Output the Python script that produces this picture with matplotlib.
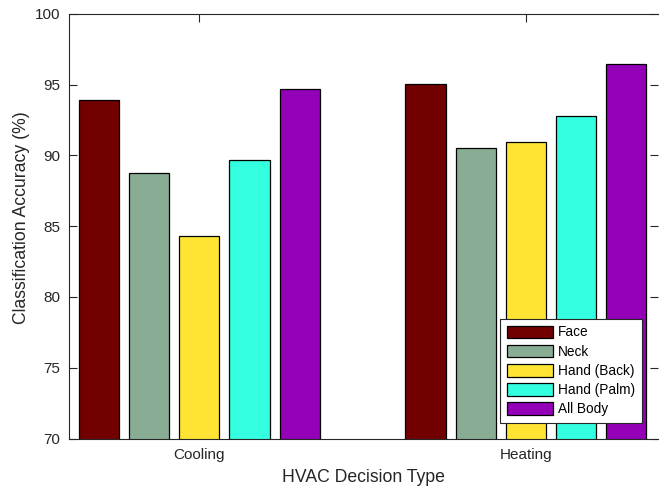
import numpy as np
import matplotlib
matplotlib.use('Agg')
import matplotlib.pyplot as plt

plt.rcParams['font.family'] = ['Liberation Sans', 'DejaVu Sans']

decision_types = ['Cooling', 'Heating']
body_parts = ['Face', 'Neck', 'Hand (Back)', 'Hand (Palm)', 'All Body']
accuracy = {
    'Face':        [93.88, 95.07],
    'Neck':        [88.72, 90.49],
    'Hand (Back)': [84.28, 90.91],
    'Hand (Palm)': [89.64, 92.77],
    'All Body':    [94.68, 96.44],
}
bar_colors = ['#720000', '#88ad94', '#ffe433', '#33ffe0', '#9400b8']
text_color = '#262626'

fig = plt.figure(figsize=(6.6, 4.87), dpi=100)
ax = fig.add_axes([68.7/660, 1 - 438.5/487, (657.5 - 68.7)/660, (438.5 - 13.7)/487])

x = np.arange(1, len(decision_types) + 1)
group_width = min(0.8, 5 / (5 + 1.5))
step = group_width / len(body_parts)
width = 0.8 * step

for i, part in enumerate(body_parts):
    offset = (i - (len(body_parts) - 1) / 2) * step
    ax.bar(x + offset, accuracy[part], width, bottom=0, color=bar_colors[i],
           edgecolor='black', linewidth=0.9, label=part, zorder=2)

ax.set_axisbelow(True)
ax.set_xlim(0.6, 2.403)
ax.set_ylim(70, 100)
ax.set_yticks(np.arange(70, 101, 5))
ax.set_xticks(x)
ax.set_xticklabels(decision_types)

ax.tick_params(axis='both', direction='in', length=6, width=0.8, colors=text_color,
               labelsize=11, labelcolor=text_color)
ax.tick_params(axis='y', right=True, pad=6)
ax.tick_params(axis='x', top=True, pad=7)
for side in ['left', 'bottom', 'top']:
    ax.spines[side].set_color(text_color)
    ax.spines[side].set_linewidth(0.8)
ax.spines['right'].set_visible(False)

ax.set_xlabel('HVAC Decision Type', fontsize=12.7, color=text_color, labelpad=5)
ax.set_ylabel('Classification Accuracy (%)', fontsize=12.7, color=text_color)
ax.yaxis.set_label_coords(-0.0655, 0.521)

leg = ax.legend(loc='lower right', fontsize=9.8, frameon=True, fancybox=False,
                edgecolor=text_color, framealpha=1, handlelength=3.4, handleheight=1.05,
                handletextpad=0.38, labelspacing=0.38, borderpad=0.5, borderaxespad=1.14)
leg.get_frame().set_linewidth(0.8)
for t in leg.get_texts():
    t.set_color('black')

fig.savefig('out.png', dpi=100)
